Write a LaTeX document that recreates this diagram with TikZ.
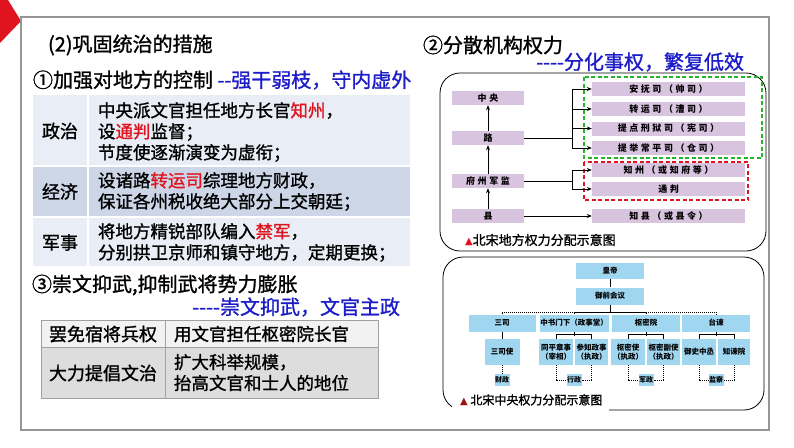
\documentclass[tikz,border=0pt]{standalone}
\usepackage{fontspec}
\setmainfont{Noto Sans CJK SC}
\newfontfamily\mf{Noto Sans CJK SC}[FakeBold=1.2]
\newfontfamily\symfont{DejaVu Sans}
\newfontfamily\dfont{Noto Sans CJK SC}[LetterSpace=28]
\usetikzlibrary{arrows.meta}
\definecolor{hdblue}{RGB}{28,28,200}
\definecolor{cred}{RGB}{224,20,30}
\definecolor{rowl}{RGB}{233,237,245}
\definecolor{rowd}{RGB}{205,214,231}
\definecolor{g1}{RGB}{242,242,242}
\definecolor{g2}{RGB}{221,221,221}
\definecolor{gline}{RGB}{160,160,160}
\definecolor{frm}{RGB}{150,150,150}
\definecolor{purp}{RGB}{217,196,224}
\definecolor{lblue}{RGB}{160,214,240}
\definecolor{grn}{RGB}{40,180,40}
\definecolor{dred}{RGB}{150,20,20}
\begin{document}
\begin{tikzpicture}[x=1pt,y=-1pt,
  txt/.style={inner sep=0pt, outer sep=0pt},
  hd/.style={txt, anchor=west, font=\mf\fontsize{20}{24}\selectfont},
  cell/.style={txt, align=left, anchor=west, font=\mf\fontsize{17.5}{21}\selectfont},
  lab/.style={txt, font=\mf\fontsize{18}{21}\selectfont},
  pbox/.style={fill=purp, inner sep=0pt, minimum height=14pt, font=\dfont\bfseries\fontsize{9}{10}\selectfont},
  bbox/.style={fill=lblue, inner sep=0pt, align=center, font=\bfseries\fontsize{7.5}{9.5}\selectfont},
  tip/.style={-{Stealth[length=5pt,width=4pt]}},
  ln/.style={line width=0.8pt},
  dl/.style={line width=0.8pt, dash pattern=on 1pt off 1pt}]
\useasboundingbox (0,0) rectangle (794,447);
\fill[white] (0,0) rectangle (794,447);
% corner mark and frame
\fill[cred] (0,0) -- (8,0) -- (21,21) -- (0,43) -- cycle;
\draw[frm, line width=1.2pt] (21,17) rectangle (769,430);
\draw[frm, line width=2.5pt] (21,430) -- (769,430);

% ---------- left column ----------
\node[hd] (t2) at (48,45) {(2)巩固统治的措施};
\node[hd] (t1) at (33,80) {①加强对地方的控制 \textcolor{hdblue}{--强干弱枝，守内虚外}};

\fill[rowl] (33,95) rectangle (410,166);
\fill[rowd] (33,166) rectangle (410,217);
\fill[rowl] (33,217) rectangle (410,266);
\draw[white, line width=1.5pt] (88,95) -- (88,266) (33,166) -- (410,166) (33,217) -- (410,217);

\node[lab] (zz) at (60,131) {政治};
\node[lab] (jj) at (60,191.5) {经济};
\node[lab] (js) at (60,242.5) {军事};
\node[cell] (c1) at (98,132) {中央派文官担任地方长官\textcolor{cred}{知州}，\\设\textcolor{cred}{通判}监督；\\节度使逐渐演变为虚衔；};
\node[cell] (c2) at (98,191.5) {设诸路\textcolor{cred}{转运司}综理地方财政，\\保证各州税收绝大部分上交朝廷；};
\node[cell] (c3) at (98,242.5) {将地方精锐部队编入\textcolor{cred}{禁军}，\\分别拱卫京师和镇守地方，定期更换；};

\node[hd] (t3) at (32,285) {③崇文抑武,抑制武将势力膨胀};
\node[hd, anchor=east, text=hdblue] (t3b) at (400,307) {----崇文抑武，文官主政};

\fill[g1] (41,320) rectangle (378,347);
\fill[g2] (41,347) rectangle (378,398);
\draw[gline, line width=0.8pt] (41,320) rectangle (378,398) (165,320) -- (165,398) (41,347) -- (378,347);
\node[lab] (m1) at (103,334) {罢免宿将兵权};
\node[cell] (m2) at (174,334) {用文官担任枢密院长官};
\node[lab] (m3) at (103,373) {大力提倡文治};
\node[cell] (m4) at (174,372.5) {扩大科举规模，\\抬高文官和士人的地位};

% ---------- right headers ----------
\node[hd] (t4) at (423,45) {②分散机构权力};
\node[hd, anchor=east, text=hdblue] (t4b) at (744,62) {----分化事权，繁复低效};

% ---------- local power diagram ----------
\draw[line width=0.8pt, rounded corners=20pt] (440,73) rectangle (766,251);
\draw[grn, line width=1.3pt, dash pattern=on 4pt off 2.5pt] (584,77) rectangle (762,158);
\draw[cred, line width=1.3pt, dash pattern=on 4pt off 2.5pt] (584,162) rectangle (748,200);

\node[pbox, minimum width=72pt] (zy) at (488,98) {中央};
\node[pbox, minimum width=72pt] (lu) at (488,138) {路};
\node[pbox, minimum width=72pt] (fz) at (488,181) {府州军监};
\node[pbox, minimum width=72pt] (xian) at (488,216) {县};
\node[pbox, minimum width=153pt] (r1) at (668.5,89) {安抚司（帅司）};
\node[pbox, minimum width=153pt] (r2) at (668.5,109) {转运司（漕司）};
\node[pbox, minimum width=153pt] (r3) at (668.5,128.5) {提点刑狱司（宪司）};
\node[pbox, minimum width=153pt] (r4) at (668.5,148) {提举常平司（仓司）};
\node[pbox, minimum width=153pt] (r5) at (668.5,170) {知州（或知府等）};
\node[pbox, minimum width=153pt] (r6) at (668.5,189) {通判};
\node[pbox, minimum width=153pt] (r7) at (668.5,216) {知县（或县令）};

\draw[ln, tip] (xian.north) -- (fz.south);
\draw[ln, tip] (fz.north) -- (lu.south);
\draw[ln, tip] (lu.north) -- (zy.south);

\coordinate (b1) at (572,138);
\coordinate (b2) at (572,181);
\draw[ln] (lu.east) -- (b1);
\draw[ln] (b1 |- r1.west) -- (b1 |- r4.west);
\foreach \r in {r1,r2,r3,r4} \draw[ln, tip] (b1 |- \r.west) -- (\r.west);
\draw[ln] (fz.east) -- (b2);
\draw[ln] (b2 |- r5.west) -- (b2 |- r6.west);
\foreach \r in {r5,r6} \draw[ln, tip] (b2 |- \r.west) -- (\r.west);
\draw[ln, tip] (xian.east) -- (r7.west);

\node[txt, anchor=west, font=\mf\fontsize{13}{15}\selectfont] (cap1) at (465,240) {{\symfont\color{cred}\fontsize{10}{12}\selectfont ▲}北宋地方权力分配示意图};

% ---------- central power diagram ----------
\draw[line width=0.8pt, rounded corners=20pt] (443,257) rectangle (764,410);
\fill[white] (452,404) rectangle (609,416);

\node[bbox, minimum width=68pt, minimum height=16pt] (hd1) at (610,271) {皇帝};
\node[bbox, minimum width=68pt, minimum height=17pt] (yq) at (610,296) {御前会议};
\node[bbox, minimum width=67pt, minimum height=17pt] (ss) at (502,323) {三司};
\node[bbox, minimum width=69pt, minimum height=17pt] (zs) at (574,323) {中书门下（政事堂）};
\node[bbox, minimum width=68pt, minimum height=17pt] (sm) at (646,323) {枢密院};
\node[bbox, minimum width=68pt, minimum height=17pt] (tj) at (716,323) {台谏};

\node[bbox, minimum width=35pt, minimum height=26pt] (ssc) at (502,352) {三司使};
\node[bbox, minimum width=34pt, minimum height=26pt] (tp) at (556,352) {同平章事\\（宰相）};
\node[bbox, minimum width=33pt, minimum height=26pt] (cz) at (591.5,352) {参知政事\\（执政）};
\node[bbox, minimum width=34pt, minimum height=26pt] (smc) at (628,352) {枢密使\\（执政）};
\node[bbox, minimum width=33pt, minimum height=26pt] (smf) at (663.5,352) {枢密副使\\（执政）};
\node[bbox, minimum width=34pt, minimum height=26pt] (yz) at (699,352) {御史中丞};
\node[bbox, minimum width=32pt, minimum height=26pt] (zj) at (734,352) {知谏院};

\node[bbox, minimum width=15pt, minimum height=12pt, font=\bfseries\fontsize{7}{8}\selectfont] (cz1) at (502,380) {财政};
\node[bbox, minimum width=15pt, minimum height=12pt, font=\bfseries\fontsize{7}{8}\selectfont] (xz) at (574,380) {行政};
\node[bbox, minimum width=15pt, minimum height=12pt, font=\bfseries\fontsize{7}{8}\selectfont] (jz) at (646,380) {军政};
\node[bbox, minimum width=15pt, minimum height=12pt, font=\bfseries\fontsize{7}{8}\selectfont] (jc) at (716,380) {监察};

\coordinate (h) at (610,312);
\draw[ln] (hd1.south) -- (yq.north);
\draw[ln] (yq.south) -- (h);
\draw[dl] (ss.north) -- (ss.north |- h) -- (zs.north |- h);
\draw[ln] (zs.north) -- (zs.north |- h) -- (sm.north |- h) -- (sm.north);
\draw[dl] (sm.north |- h) -- (tj.north |- h) -- (tj.north);
\draw[ln] (ss.south) -- (ssc.north);
\foreach \p/\a/\b in {zs/tp/cz, sm/smc/smf, tj/yz/zj}{
  \draw[ln] (\p.south) -- ++(0,4);
  \draw[ln] (\a.north) -- ++(0,-4) -| (\b.north);
}
\draw[dl] (ssc.south) -- (cz1.north);
\foreach \l/\a/\b in {xz/tp/cz, jz/smc/smf, jc/yz/zj}{
  \draw[dl] (\a.south) |- (\l.west);
  \draw[dl] (\b.south) |- (\l.east);
}

\node[txt, anchor=west, font=\mf\fontsize{12}{14}\selectfont] (cap2) at (460,400) {{\symfont\color{dred}\fontsize{10}{12}\selectfont ▲} 北宋中央权力分配示意图};
\end{tikzpicture}
\end{document}
